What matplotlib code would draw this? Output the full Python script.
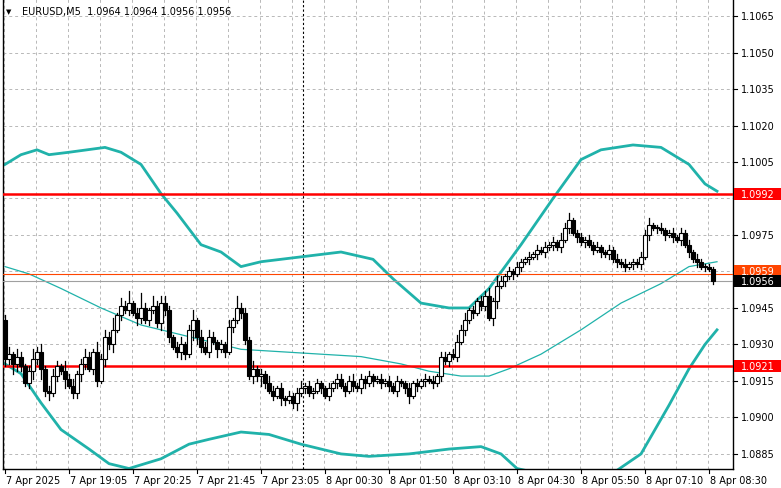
import numpy as np
import matplotlib
matplotlib.use("Agg")
import matplotlib.pyplot as plt
from matplotlib.patches import Rectangle

# ---- data (closes in pips above 1.0900, one per M5 candle) ----
BASE = 1.0900
OPEN0 = 40
CLOSES = [24, 26, 22, 25, 21, 14, 19, 24, 27, 20,
          11, 10, 17, 21, 19, 16, 13, 10, 18, 22,
          25, 20, 27, 15, 24, 33, 30, 36, 42, 46,
          44, 47, 43, 41, 45, 40, 44, 46, 39, 47,
          44, 33, 29, 27, 30, 26, 36, 40, 33, 29,
          27, 33, 31, 28, 30, 27, 37, 40, 45, 43,
          32, 17, 20, 17, 18, 14, 11, 9, 12, 8,
          7, 9, 6, 10, 12, 13, 10, 11, 14, 12,
          9, 12, 14, 16, 13, 11, 15, 13, 12, 16,
          14, 17, 15, 16, 14, 15, 13, 11, 15, 14,
          12, 9, 14, 13, 15, 16, 15, 14, 17, 25,
          23, 26, 25, 31, 36, 40, 44, 43, 48, 46,
          50, 41, 48, 54, 56, 58, 60, 59, 62, 64,
          65, 66, 67, 69, 68, 70, 71, 72, 70, 73,
          78, 81, 76, 74, 72, 73, 71, 69, 70, 68,
          67, 69, 65, 64, 63, 62, 63, 64, 63, 66,
          75, 79, 78, 78, 77, 75, 76, 74, 73, 76,
          71, 68, 65, 64, 62, 62, 61, 56]
UP_WICK = ("2313212423" "1232142312" "3214232513" "2512621423"
           "3212312413" "2321213152" "2131213212" "1212312121"
           "1212212312" "1211212121" "1212121212" "2123231212"
           "2314212121" "1212121213" "2311212121" "1212121112"
           "2311211212" "12121111")
DN_WICK = ("3243212324" "2312141223" "2122132312" "1213212123"
           "2212321432" "1213121212" "2132421213" "2123121212"
           "1212121212" "2121212121" "2312121212" "1212121212"
           "2133121212" "1212121212" "1212121212" "1212121212"
           "1212121212" "12121211")

# Bollinger bands (candle index, price)
UPPER_X = [0, 4, 8, 11, 16, 25, 29, 34, 39, 43, 49, 54, 59, 64, 74, 84, 92, 97, 104, 111, 116, 121, 129, 137, 144, 149, 157, 164, 171, 175, 178]
UPPER_Y = [1.1004, 1.1008, 1.1010, 1.1008, 1.1009, 1.1011, 1.1009, 1.1004, 1.0992, 1.0984, 1.0971, 1.0968, 1.0962, 1.0964, 1.0966, 1.0968, 1.0965, 1.0957, 1.0947, 1.0945, 1.0945, 1.0953, 1.0971, 1.0990, 1.1006, 1.1010, 1.1012, 1.1011, 1.1004, 1.0996, 1.0993]
MID_X = [0, 6, 14, 24, 34, 44, 59, 69, 79, 89, 99, 106, 114, 121, 126, 134, 144, 154, 164, 171, 178]
MID_Y = [1.0962, 1.0959, 1.0953, 1.0945, 1.0938, 1.0934, 1.0928, 1.0927, 1.0926, 1.0925, 1.0922, 1.0919, 1.0917, 1.0917, 1.0920, 1.0926, 1.0936, 1.0947, 1.0955, 1.0962, 1.0964]
LOWER_X = [0, 4, 9, 14, 21, 26, 31, 39, 46, 51, 59, 66, 74, 84, 91, 101, 111, 119, 124, 128, 139, 151, 159, 166, 171, 175, 178]
LOWER_Y = [1.0922, 1.0918, 1.0906, 1.0895, 1.0887, 1.0881, 1.0879, 1.0883, 1.0889, 1.0891, 1.0894, 1.0893, 1.0889, 1.0885, 1.0884, 1.0885, 1.0887, 1.0888, 1.0885, 1.0879, 1.0875, 1.0876, 1.0885, 1.0905, 1.0920, 1.0930, 1.0936]

LEVELS = [1.0992, 1.0921]
ASK, BID = 1.0959, 1.0956
Y_TICKS = [1.0885, 1.0900, 1.0915, 1.0930, 1.0945, 1.0960, 1.0975, 1.0990,
           1.1005, 1.1020, 1.1035, 1.1050, 1.1065]
X_LABELS = ["7 Apr 2025", "7 Apr 19:05", "7 Apr 20:25", "7 Apr 21:45", "7 Apr 23:05",
            "8 Apr 00:30", "8 Apr 01:50", "8 Apr 03:10", "8 Apr 04:30", "8 Apr 05:50",
            "8 Apr 07:10", "8 Apr 08:30"]

TEAL = "#20B2AA"
W, H = 781, 489
fig = plt.figure(figsize=(W / 100, H / 100), dpi=100)
ax = fig.add_axes([3 / W, 19 / H, 730 / W, 470 / H])
ymin, ymax = 1.08788, 1.1072
ax.set_xlim(-0.5, 182)
ax.set_ylim(ymin, ymax)

# grid
for k in range(0, 23):
    ax.axvline(8 * k - 0.25, color="#b8b8b8", lw=0.7, ls=(0, (3, 3)), zorder=0)
for t in Y_TICKS:
    ax.axhline(t, color="#b8b8b8", lw=0.7, ls=(0, (3, 3)), zorder=0)
ax.axvline(74.5, color="black", lw=0.8, ls=(0, (2, 2)), zorder=1)

# bands
ax.plot(UPPER_X, UPPER_Y, color=TEAL, lw=2.0, zorder=2, solid_joinstyle="round")
ax.plot(LOWER_X, LOWER_Y, color=TEAL, lw=2.0, zorder=2, solid_joinstyle="round")
ax.plot(MID_X, MID_Y, color=TEAL, lw=0.9, zorder=2)

# levels
for lv in LEVELS:
    ax.axhline(lv, color="#ff0000", lw=1.8, zorder=3)
ax.axhline(ASK, color="#ff4500", lw=0.8, zorder=3)
ax.axhline(BID, color="#a0a0a0", lw=0.8, zorder=3)

# candles
opens = [OPEN0] + CLOSES[:-1]
for i, (o, c) in enumerate(zip(opens, CLOSES)):
    hi = max(o, c) + int(UP_WICK[i])
    lo = min(o, c) - int(DN_WICK[i])
    ax.plot([i, i], [BASE + lo / 1e4, BASE + hi / 1e4], color="black", lw=0.9, zorder=4)
    b0, b1 = min(o, c), max(o, c)
    if b1 - b0 < 0.3:
        b1 = b0 + 0.3
    ax.add_patch(Rectangle((i - 0.38, BASE + b0 / 1e4), 0.76, (b1 - b0) / 1e4,
                           facecolor="white" if c >= o else "black",
                           edgecolor="black", lw=0.8, zorder=5))

ax.set_xticks([])
ax.set_yticks([])
for s in ax.spines.values():
    s.set_color("black"); s.set_linewidth(1.0)
ax.spines["top"].set_visible(False)

# right price scale
def ypix(p):
    return 19 + (p - ymin) / (ymax - ymin) * 470

tag_prices = [1.0992, 1.0921, ASK, BID]
for t in Y_TICKS:
    # labels hidden behind the price tags in the original
    if any(abs(ypix(t) - ypix(p)) < 10 for p in tag_prices):
        continue
    fig.text(741 / W, ypix(t) / H, f"{t:.4f}", fontsize=7, va="center", ha="left")
    fig.add_artist(plt.Line2D([733 / W, 737 / W], [ypix(t) / H] * 2, color="black", lw=0.8))

def tag(p, fc, y_off=0):
    yc = ypix(p) + y_off
    fig.add_artist(Rectangle((734 / W, (yc - 6) / H), 47 / W, 12 / H, facecolor=fc,
                             edgecolor="none", transform=fig.transFigure, zorder=5))
    fig.text(741 / W, yc / H, f"{p:.4f}", fontsize=7, color="white", va="center",
             ha="left", zorder=6)

tag(1.0992, "#ff0000")
tag(1.0921, "#ff0000")
tag(ASK, "#ff4500", 3)
tag(BID, "black")

# bottom time labels
for k, lab in enumerate(X_LABELS):
    xp = 5 + 64 * k
    fig.add_artist(plt.Line2D([xp / W] * 2, [15 / H, 19 / H], color="black", lw=0.8))
    fig.text((xp + 1) / W, 8 / H, lab, fontsize=7, va="center", ha="left")

fig.text(22 / W, 477 / H, "EURUSD,M5  1.0964 1.0964 1.0956 1.0956", fontsize=7, va="center")
fig.text(6 / W, 477 / H, "\u25BC", fontsize=5, va="center")

fig.savefig("out.png", dpi=100, facecolor="white")
